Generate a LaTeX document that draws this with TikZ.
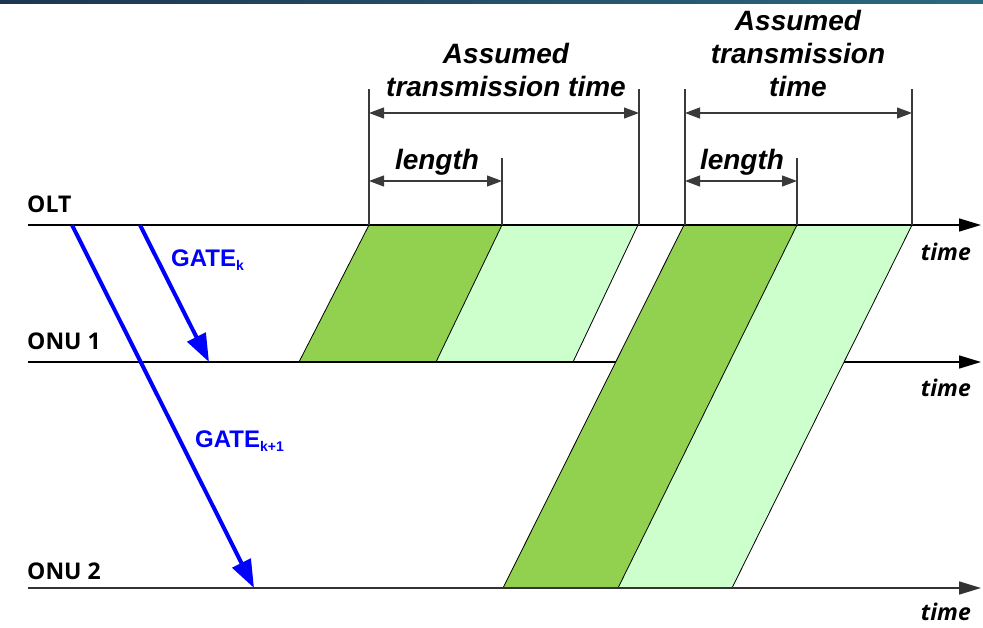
\documentclass[tikz,border=0pt]{standalone}
\usepackage{fontspec}
\setmainfont{Liberation Sans}
\newfontfamily\osans{Open Sans}
\usetikzlibrary{arrows.meta}
\definecolor{darkgr}{HTML}{92D050}
\definecolor{lightgr}{HTML}{CCFFCC}
\definecolor{dimgray}{HTML}{3A3A3A}
\definecolor{gateblue}{HTML}{0000FF}
\definecolor{hdrA}{HTML}{1E3550}
\definecolor{hdrB}{HTML}{2A6A80}
\tikzset{
  axisline/.style={line width=1.5pt, draw=black, -{Triangle[length=22pt,width=13pt]}},
  dimline/.style={line width=1.1pt, draw=dimgray, {Triangle[length=15pt,width=11pt]}-{Triangle[length=15pt,width=11pt]}},
  extline/.style={line width=1.1pt, draw=dimgray},
  gatearrow/.style={line width=4pt, draw=gateblue, -{Triangle[length=28pt,width=20pt]}},
  slot/.style={draw=black, line width=0.8pt},
  axislabel/.style={font=\osans\bfseries\fontsize{23}{26}\selectfont, anchor=west, inner sep=0pt},
  timelabel/.style={font=\osans\bfseries\itshape\fontsize{23}{26}\selectfont, anchor=east, inner sep=0pt},
  dimtext/.style={font=\bfseries\itshape\fontsize{28}{33}\selectfont, inner sep=0pt, align=center},
  gatetext/.style={font=\bfseries\fontsize{24}{27}\selectfont, text=gateblue, anchor=west, inner sep=0pt}
}
\begin{document}
\begin{tikzpicture}[x=1pt,y=-1pt]
\useasboundingbox (0,0) rectangle (983,628);
% header strip
\shade[left color=hdrA, right color=hdrB] (0,0) rectangle (983,4);

% timeline end points
\coordinate (oltS) at (28,225);   \coordinate (oltE) at (981,225);
\coordinate (onu1S) at (28,362);  \coordinate (onu1E) at (981,362);
\coordinate (onu2S) at (28,588);  \coordinate (onu2E) at (981,588);

% slots granted by GATE k
\fill[darkgr] (369,225) -- (502,225) -- (436,362) -- (299,362) -- cycle;
\fill[lightgr] (502,225) -- (638,225) -- (573,362) -- (436,362) -- cycle;
\draw[slot] (369,225) -- (299,362) (502,225) -- (436,362) (638,225) -- (573,362);

\draw[axisline] (onu1S) -- (onu1E);

% slots granted by GATE k+1
\fill[darkgr] (684,225) -- (797,225) -- (618,588) -- (503,588) -- cycle;
\fill[lightgr] (797,225) -- (912,225) -- (732,588) -- (618,588) -- cycle;
\draw[slot] (684,225) -- (503,588) (797,225) -- (618,588) (912,225) -- (732,588);

% time axes
\draw[axisline] (oltS) -- (oltE);
\draw[axisline, draw=black!80] (onu2S) -- (onu2E);

% axis labels
\node[axislabel] (olt) at (27,204) {OLT};
\node[axislabel] (onu1) at (27,341) {ONU 1};
\node[axislabel] (onu2) at (27,571) {ONU 2};
\node[timelabel] (t1) at (971,252) {time};
\node[timelabel] (t2) at (971,388) {time};
\node[timelabel] (t3) at (971,612) {time};

% extension lines
\draw[extline] (369,225) -- (369,89);
\draw[extline] (502,225) -- (502,158);
\draw[extline] (639,225) -- (639,89);
\draw[extline] (685,225) -- (685,89);
\draw[extline] (797,225) -- (797,158);
\draw[extline] (912,225) -- (912,89);

% dimension arrows
\coordinate (a1L) at (369,113); \coordinate (a1R) at (639,113);
\coordinate (l1L) at (369,181); \coordinate (l1R) at (502,181);
\coordinate (a2L) at (685,113); \coordinate (a2R) at (912,113);
\coordinate (l2L) at (685,181); \coordinate (l2R) at (797,181);
\draw[dimline] (a1L) -- (a1R);
\draw[dimline] (l1L) -- (l1R);
\draw[dimline] (a2L) -- (a2R);
\draw[dimline] (l2L) -- (l2R);

% dimension texts
\node[dimtext] (ass1) at (506,70) {Assumed\\transmission time};
\node[dimtext] (ass2) at (798,53) {Assumed\\transmission\\time};
\node[dimtext] (len1) at (437,162) {length};
\node[dimtext] (len2) at (742,162) {length};

% GATE messages
\coordinate (g1s) at (140,225); \coordinate (g1e) at (209,362);
\coordinate (g2s) at (72,225);  \coordinate (g2e) at (254,588);
\draw[gatearrow] (g1s) -- (g1e);
\draw[gatearrow] (g2s) -- (g2e);
\node[gatetext] (gk) at (171,260) {GATE\textsubscript{\fontsize{14}{16}\selectfont k}};
\node[gatetext] (gk1) at (195,441) {GATE\textsubscript{\fontsize{14}{16}\selectfont k+1}};
\end{tikzpicture}
\end{document}
